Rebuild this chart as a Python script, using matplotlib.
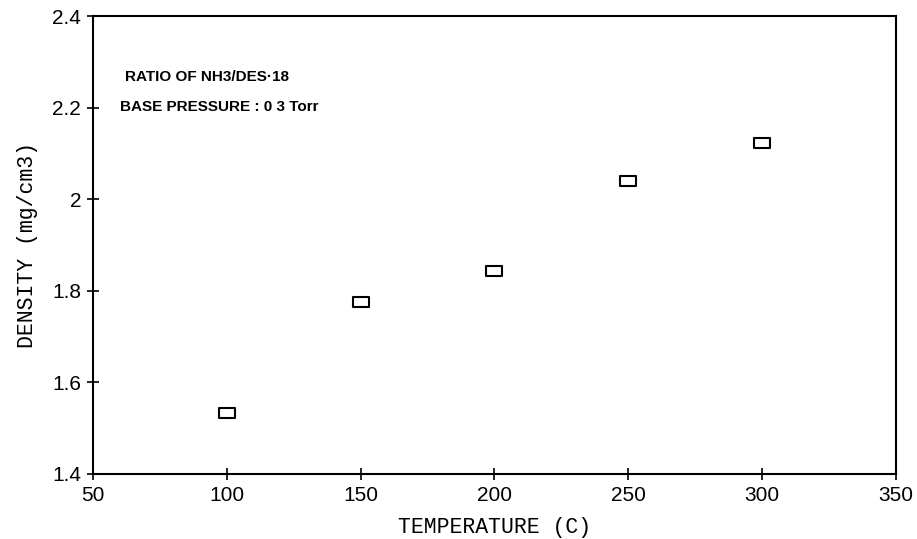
import matplotlib
matplotlib.use("Agg")
import matplotlib.pyplot as plt
from matplotlib.path import Path

# data
temperature = [100, 150, 200, 250, 300]
density = [1.533, 1.776, 1.843, 2.040, 2.123]

x_ticks = [50, 100, 150, 200, 250, 300, 350]
y_ticks = [1.4, 1.6, 1.8, 2.0, 2.2, 2.4]
y_tick_labels = ["1.4", "1.6", "1.8", "2", "2.2", "2.4"]

# flat rectangle marker like the original plotter box
box = Path([(-1, -0.68), (1, -0.68), (1, 0.68), (-1, 0.68), (-1, -0.68)],
           [Path.MOVETO, Path.LINETO, Path.LINETO, Path.LINETO, Path.CLOSEPOLY])

fig = plt.figure(figsize=(9.17, 5.39), dpi=100)
ax = fig.add_axes([0.1014, 0.1206, 0.8757, 0.8497])

ax.plot(temperature, density, linestyle="none", marker=box, markersize=11,
        markerfacecolor="white", markeredgecolor="black", markeredgewidth=1.5)

ax.set_xlim(50, 350)
ax.set_ylim(1.4, 2.4)
ax.set_xticks(x_ticks)
ax.set_yticks(y_ticks)
ax.set_yticklabels(y_tick_labels)

for lbl in ax.get_xticklabels() + ax.get_yticklabels():
    lbl.set_fontfamily("Liberation Sans")
    lbl.set_fontsize(15)

ax.tick_params(direction="inout", length=9, width=1.2, pad=4, colors="black")
for s in ax.spines.values():
    s.set_linewidth(1.5)

ax.set_xlabel("TEMPERATURE (C)", family="Liberation Mono", fontsize=15.5, labelpad=9)
ax.set_ylabel("DENSITY (mg/cm3)", family="Liberation Mono", fontsize=15.5, labelpad=10)

note_font = dict(family=["Liberation Sans Narrow", "Liberation Sans"], fontsize=11,
                 fontweight="bold", transform=ax.transAxes, va="center")
ax.text(0.040, 0.867, "RATIO OF NH3/DES\u00b718", **note_font)
ax.text(0.034, 0.801, "BASE PRESSURE : 0 3 Torr", **note_font)

fig.savefig("out.png", dpi=100, facecolor="white")
